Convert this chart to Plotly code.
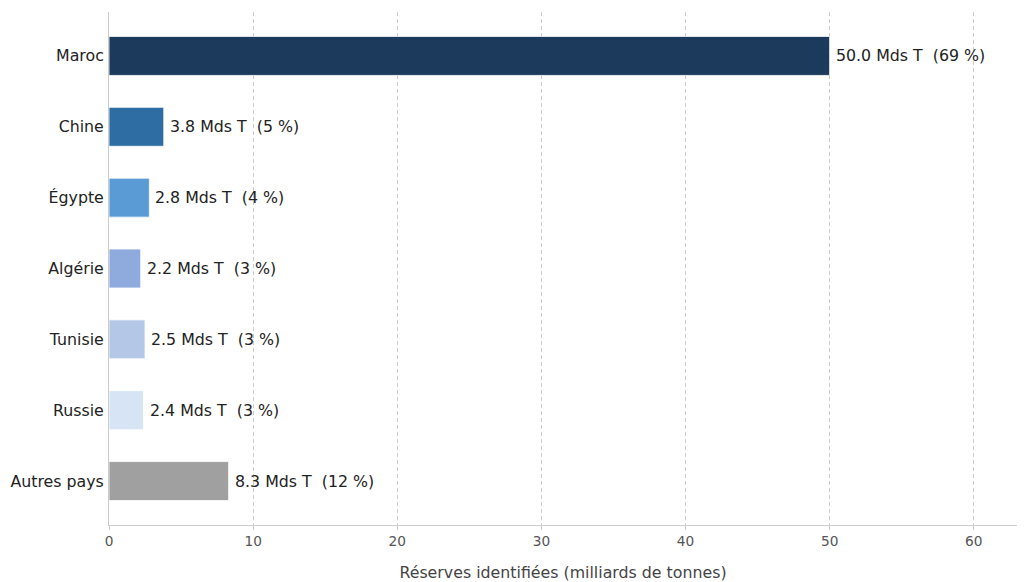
import plotly.graph_objects as go

pays = ["Maroc", "Chine", "Égypte", "Algérie", "Tunisie", "Russie", "Autres pays"]
reserves = [50.0, 3.8, 2.8, 2.2, 2.5, 2.4, 8.3]
parts = [69, 5, 4, 3, 3, 3, 12]
couleurs = ["#1b3a5c", "#2e6da4", "#5b9bd5", "#8faadc", "#b4c7e7", "#d6e4f5", "#a0a0a0"]

labels = [f"{v:.1f} Mds T\u00a0\u00a0({p} %)" for v, p in zip(reserves, parts)]

fig = go.Figure(go.Bar(
    x=reserves, y=pays, orientation="h",
    marker=dict(color=couleurs, line=dict(color="white", width=0.8)),
    width=0.55,
    cliponaxis=False,
))

for v, p, lab in zip(reserves, pays, labels):
    fig.add_annotation(x=v, y=p, text=lab, showarrow=False, xanchor="left",
                       yanchor="middle", xshift=4,
                       font=dict(family="DejaVu Sans", size=15.8, color="#222222"))

fig.update_layout(
    width=1026, height=582,
    margin=dict(l=109, r=9, t=12, b=57),
    plot_bgcolor="white", paper_bgcolor="white",
    font=dict(family="DejaVu Sans", color="#222222"),
    showlegend=False,
    xaxis=dict(
        range=[0, 63], tickvals=[0, 10, 20, 30, 40, 50, 60],
        showgrid=True, gridcolor="#cccccc", griddash="4px,3px", gridwidth=1,
        showline=True, linecolor="#cccccc", linewidth=1,
        ticks="outside", ticklen=4, tickcolor="#cccccc",
        tickfont=dict(size=13.7, color="#555555"),
        title=dict(text="Réserves identifiées (milliards de tonnes)",
                   font=dict(size=15.8, color="#444444"), standoff=18),
        zeroline=False, automargin=False,
    ),
    yaxis=dict(
        range=[6.62, -0.62], categoryorder="array", categoryarray=pays,
        showline=True, linecolor="#cccccc", linewidth=1,
        showgrid=False, ticks="", ticklabelstandoff=1,
        tickfont=dict(size=15.8, color="#222222"), automargin=False,
    ),
)

fig.write_html("out.html")
